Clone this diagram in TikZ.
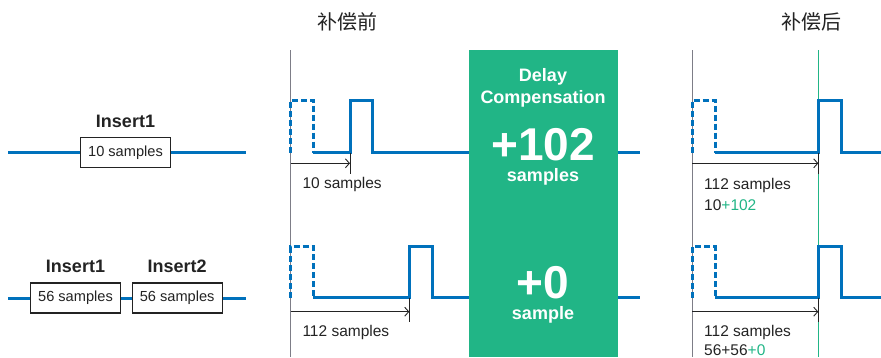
\documentclass[tikz,border=0pt]{standalone}
\usepackage{fontspec}
\setmainfont{Liberation Sans}
\newfontfamily\cjk{Noto Sans CJK SC}
\usetikzlibrary{arrows.meta, positioning}
\definecolor{cBlue}{RGB}{0,113,188}
\definecolor{cGreen}{RGB}{33,181,134}
\definecolor{cAxis}{RGB}{125,125,135}
\definecolor{cInk}{RGB}{35,35,35}
\tikzset{
	wire/.style={cBlue, line width=3pt, line join=miter},
	ghost/.style={cBlue, line width=3pt, dash pattern=on 6pt off 3pt},
	insbox/.style={rectangle, draw=cInk, line width=1.1pt, fill=white, minimum width=90pt, minimum height=30pt, inner sep=0pt, text=cInk, font=\fontsize{14.6}{16}\selectfont},
	inslbl/.style={font=\bfseries\fontsize{18}{20}\selectfont, text=cInk},
	axisline/.style={cAxis, line width=1pt},
	delay/.style={-{Straight Barb[length=4pt, width=9pt]}, cInk, line width=0.9pt},
	tickline/.style={cInk, line width=1pt},
	lbl/.style={anchor=base west, inner sep=0pt, text=cInk, font=\fontsize{15.5}{18}\selectfont},
	title/.style={text=cInk, font=\cjk\fontsize{20}{24}\selectfont},
	comp/.style={text=white, font=\bfseries\fontsize{18}{21}\selectfont, anchor=base, inner sep=0pt},
	big/.style={text=white, font=\bfseries\fontsize{46}{50}\selectfont, anchor=base, inner sep=0pt, text depth=0pt},
}
\begin{document}
\begin{tikzpicture}[x=1pt, y=-1pt]
	\useasboundingbox (0,0) rectangle (881,357);
	% plug-in chains
	\coordinate (l1) at (8,152.5); \coordinate (r1) at (246,152.5);
	\node[insbox] (a1) at (125.5,152.5) {10 samples};
	\node[inslbl, above=6pt of a1] {Insert1};
	\draw[wire] (l1) -- (a1.west); \draw[wire] (a1.east) -- (r1);
	\coordinate (l2) at (8,298); \coordinate (r2) at (246,298);
	\node[insbox] (b1) at (75.5,298) {56 samples};
	\node[insbox] (b2) at (177.2,298) {56 samples};
	\node[inslbl, above=6pt of b1] {Insert1};
	\node[inslbl, above=6pt of b2] {Insert2};
	\draw[wire] (l2) -- (b1.west); \draw[wire] (b1.east) -- (b2.west); \draw[wire] (b2.east) -- (r2);
	% before compensation
	\node[title] (pre) at (347.5,22) {补偿前};
	\coordinate (o1) at (290.7,50); \coordinate (o2) at (290.7,357);
	\draw[axisline] (o1) -- (o2);
	\draw[ghost] (290.7,152.7) -- (290.7,100) -- (313.3,100) -- (313.3,152.7);
	\draw[wire] (313.3,152.7) -- (350,152.7) -- (350,100) -- (372.7,100) -- (372.7,152.7) -- (640,152.7);
	\coordinate (p1) at (350,163.3);
	\draw[delay] (290.7,163.3) -- (p1);
	\draw[tickline] (350,152.7) -- (350,174.3);
	\node[lbl] at (302.3,188.3) {10 samples};
	\draw[ghost] (290.7,297.7) -- (290.7,246.7) -- (313.3,246.7) -- (313.3,297.7);
	\draw[wire] (313.3,297.7) -- (409.3,297.7) -- (409.3,246.7) -- (432.3,246.7) -- (432.3,297.7) -- (640,297.7);
	\coordinate (p2) at (409.3,311.7);
	\draw[delay] (290.7,311.7) -- (p2);
	\draw[tickline] (409.3,297.7) -- (409.3,321.7);
	\node[lbl] at (302.3,336.7) {112 samples};
	% delay compensation
	\node[fill=cGreen, minimum width=149pt, minimum height=307pt, inner sep=0pt, anchor=north west] (dc) at (468.3,50) {};
	\node[comp] at (543,81.7) {Delay};
	\node[comp] at (543,103.3) {Compensation};
	\node[big] at (543,160) {+102};
	\node[comp] at (543,181.7) {samples};
	\node[big] at (543,298.3) {+0};
	\node[comp] at (543,319.3) {sample};
	% after compensation
	\node[title] (post) at (811,22) {补偿后};
	\coordinate (q1) at (692.3,50); \coordinate (q2) at (692.3,357);
	\draw[axisline] (q1) -- (q2);
	\coordinate (g1) at (818.3,50); \coordinate (g2) at (818.3,357);
	\draw[cGreen, line width=1pt] (g1) -- (g2);
	\draw[ghost] (692.3,152.7) -- (692.3,100) -- (715,100) -- (715,152.7);
	\draw[wire] (715,152.7) -- (818.3,152.7) -- (818.3,100) -- (841.7,100) -- (841.7,152.7) -- (881,152.7);
	\draw[delay] (692.3,163.3) -- (818.3,163.3);
	\draw[tickline] (818.3,152.7) -- (818.3,174.3);
	\node[lbl] at (704,189.3) {112 samples};
	\node[lbl] at (704,210.7) {10\textcolor{cGreen}{+102}};
	\draw[ghost] (692.3,297.7) -- (692.3,246.7) -- (715,246.7) -- (715,297.7);
	\draw[wire] (715,297.7) -- (818.3,297.7) -- (818.3,246.7) -- (841.7,246.7) -- (841.7,297.7) -- (881,297.7);
	\draw[delay] (692.3,311.7) -- (818.3,311.7);
	\draw[tickline] (818.3,297.7) -- (818.3,321.7);
	\node[lbl] at (704,336.7) {112 samples};
	\node[lbl] at (704,355.5) {56+56\textcolor{cGreen}{+0}};
\end{tikzpicture}
\end{document}
